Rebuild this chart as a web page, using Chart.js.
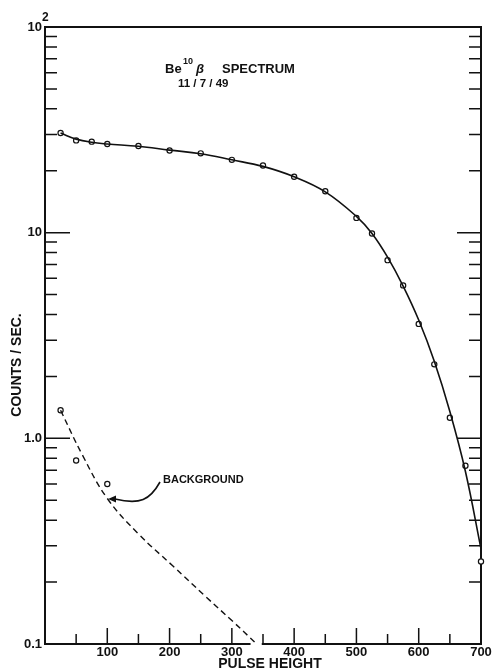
<!DOCTYPE html>
<html lang="en">
<head>
  <meta charset="UTF-8">
  <title>Be10 beta spectrum</title>
  <script src="https://cdn.jsdelivr.net/npm/chart.js"></script>
  <style>
    html, body { margin: 0; padding: 0; background: #fff; }
  </style>
</head>
<body>
  <canvas id="spectrum" width="493" height="671"></canvas>
  <script>
    // Be10 beta spectrum, counts/sec vs pulse height
    const pulseHeight = [25, 50, 75, 100, 150, 200, 250, 300, 350, 400, 450, 500, 525, 550, 575, 600, 625, 650, 675, 700];
    const countsPerSec = [30.5, 28.1, 27.7, 27.0, 26.4, 25.1, 24.3, 22.6, 21.2, 18.7, 15.9, 11.8, 9.9, 7.35, 5.54, 3.6, 2.29, 1.26, 0.736, 0.252];

    // smooth curve drawn through the spectrum points
    const fitPulse = [25, 50, 75, 100, 150, 200, 250, 300, 350, 400, 450, 500, 525, 550, 575, 600, 625, 650, 675, 700];
    const fitCounts = [30.5, 28.5, 27.5, 27.0, 26.3, 25.2, 24.2, 22.6, 21.0, 18.7, 15.8, 12.0, 9.9, 7.6, 5.5, 3.76, 2.37, 1.35, 0.69, 0.29];

    // background points and the dashed curve drawn through them
    const bgPulse = [25, 50, 100];
    const bgCounts = [1.37, 0.78, 0.60];
    const bgFitPulse = [25, 60, 100, 150, 205, 258, 300, 340];
    const bgFitCounts = [1.37, 0.83, 0.51, 0.343, 0.240, 0.170, 0.130, 0.100];

    // tick marks (drawn inside the frame) and labels
    const xMajorTicks = [100, 200, 300, 400, 500, 600, 700];
    const xMinorTicks = [50, 150, 250, 350, 450, 550, 650];
    const yMajorTicks = [1, 10];
    const yMinorTicks = [0.2, 0.3, 0.4, 0.5, 0.6, 0.7, 0.8, 0.9, 2, 3, 4, 5, 6, 7, 8, 9, 20, 30, 40, 50, 60, 70, 80, 90];
    const yTickValues = [0.1, 1, 10, 100];
    const yTickText = ['0.1', '1.0', '10', '10'];

    const FONT = '"Liberation Sans", Arial, sans-serif';
    const INK = '#111';

    const toXY = (xs, ys) => xs.map((x, i) => ({ x: x, y: ys[i] }));

    const frameAndText = {
      id: 'frameAndText',
      beforeDatasetsDraw(chart) {
        const { ctx, chartArea: a, scales } = chart;
        const x = scales.x, y = scales.y;
        ctx.save();
        ctx.strokeStyle = INK;
        ctx.lineCap = 'butt';

        // frame, bottom line has a small break like the original
        ctx.lineWidth = 2;
        ctx.beginPath();
        ctx.moveTo(x.getPixelForValue(330), a.bottom);
        ctx.lineTo(a.left, a.bottom);
        ctx.lineTo(a.left, a.top);
        ctx.lineTo(a.right, a.top);
        ctx.lineTo(a.right, a.bottom);
        ctx.lineTo(x.getPixelForValue(348), a.bottom);
        ctx.stroke();

        ctx.lineWidth = 1.5;
        ctx.beginPath();
        yMinorTicks.forEach(v => {
          const py = y.getPixelForValue(v);
          ctx.moveTo(a.left, py); ctx.lineTo(a.left + 12, py);
          ctx.moveTo(a.right, py); ctx.lineTo(a.right - 12, py);
        });
        yMajorTicks.forEach(v => {
          const py = y.getPixelForValue(v);
          ctx.moveTo(a.left, py); ctx.lineTo(a.left + 25, py);
          ctx.moveTo(a.right, py); ctx.lineTo(a.right - 24, py);
        });
        xMinorTicks.forEach(v => {
          const px = x.getPixelForValue(v);
          ctx.moveTo(px, a.bottom); ctx.lineTo(px, a.bottom - 10);
        });
        xMajorTicks.forEach(v => {
          const px = x.getPixelForValue(v);
          ctx.moveTo(px, a.bottom); ctx.lineTo(px, a.bottom - 16);
        });
        ctx.stroke();
        ctx.restore();
      },
      afterDraw(chart) {
        const { ctx, chartArea: a } = chart;
        ctx.save();
        ctx.fillStyle = INK;
        ctx.strokeStyle = INK;
        ctx.textBaseline = 'alphabetic';
        ctx.textAlign = 'left';

        // exponent of the top label
        ctx.font = 'bold 12px ' + FONT;
        ctx.fillText('2', a.left - 3, a.top - 6);

        // title
        ctx.font = 'bold 13px ' + FONT;
        ctx.fillText('Be', 165, 73);
        ctx.font = 'bold 9px ' + FONT;
        ctx.fillText('10', 183, 64);
        ctx.font = 'italic bold 13px ' + FONT;
        ctx.fillText('β', 196, 73);
        ctx.font = 'bold 13px ' + FONT;
        ctx.fillText('SPECTRUM', 222, 73);
        ctx.font = 'bold 11.5px ' + FONT;
        ctx.fillText('11 / 7 / 49', 178, 87);

        // background label and arrow
        ctx.font = 'bold 11px ' + FONT;
        ctx.textBaseline = 'middle';
        ctx.fillText('BACKGROUND', 163, 480);
        ctx.lineWidth = 1.6;
        ctx.beginPath();
        ctx.moveTo(160, 482);
        ctx.bezierCurveTo(150, 500, 140, 505, 115, 499);
        ctx.stroke();
        ctx.beginPath();
        ctx.moveTo(108, 499);
        ctx.lineTo(116, 495.5);
        ctx.lineTo(116, 502.5);
        ctx.closePath();
        ctx.fill();

        // axis titles
        ctx.textAlign = 'center';
        ctx.font = 'bold 14px ' + FONT;
        ctx.fillText('PULSE HEIGHT', 270, 664);
        ctx.translate(17, 365);
        ctx.rotate(-Math.PI / 2);
        ctx.font = 'bold 14px ' + FONT;
        ctx.fillText('COUNTS / SEC.', 0, 0);
        ctx.restore();
      }
    };

    const pointStyle = {
      showLine: false,
      pointRadius: 2.6,
      pointBorderWidth: 1.2,
      pointBackgroundColor: '#fff',
      pointBorderColor: INK,
      clip: false
    };

    new Chart(document.getElementById('spectrum'), {
      type: 'scatter',
      data: {
        datasets: [
          {
            data: toXY(fitPulse, fitCounts),
            showLine: true,
            borderColor: INK,
            borderWidth: 1.6,
            tension: 0.4,
            pointRadius: 0,
            clip: false
          },
          {
            data: toXY(bgFitPulse, bgFitCounts),
            showLine: true,
            borderColor: INK,
            borderWidth: 1.4,
            borderDash: [6, 4],
            tension: 0.4,
            pointRadius: 0,
            clip: false
          },
          Object.assign({ data: toXY(pulseHeight, countsPerSec) }, pointStyle),
          Object.assign({ data: toXY(bgPulse, bgCounts) }, pointStyle)
        ]
      },
      options: {
        responsive: false,
        animation: false,
        layout: { padding: { top: 27, right: 12, left: 0, bottom: 0 } },
        plugins: { legend: { display: false }, tooltip: { enabled: false } },
        scales: {
          x: {
            type: 'linear',
            min: 0,
            max: 700,
            grid: { display: false, drawTicks: false },
            border: { display: false },
            ticks: {
              stepSize: 100,
              maxRotation: 0,
              padding: 1,
              color: INK,
              font: { family: FONT, size: 13, weight: 'bold' },
              callback: v => (v === 0 ? '' : v)
            },
            afterFit: s => { s.height = 27; }
          },
          y: {
            type: 'logarithmic',
            min: 0.1,
            max: 100,
            grid: { display: false, drawTicks: false },
            border: { display: false },
            ticks: {
              autoSkip: false,
              padding: 3,
              color: INK,
              font: { family: FONT, size: 13, weight: 'bold' },
              callback: v => {
                const i = yTickValues.findIndex(t => Math.abs(v - t) < t * 1e-6);
                return i < 0 ? '' : yTickText[i];
              }
            },
            afterFit: s => { s.width = 45; }
          }
        }
      },
      plugins: [frameAndText]
    });
  </script>
</body>
</html>
